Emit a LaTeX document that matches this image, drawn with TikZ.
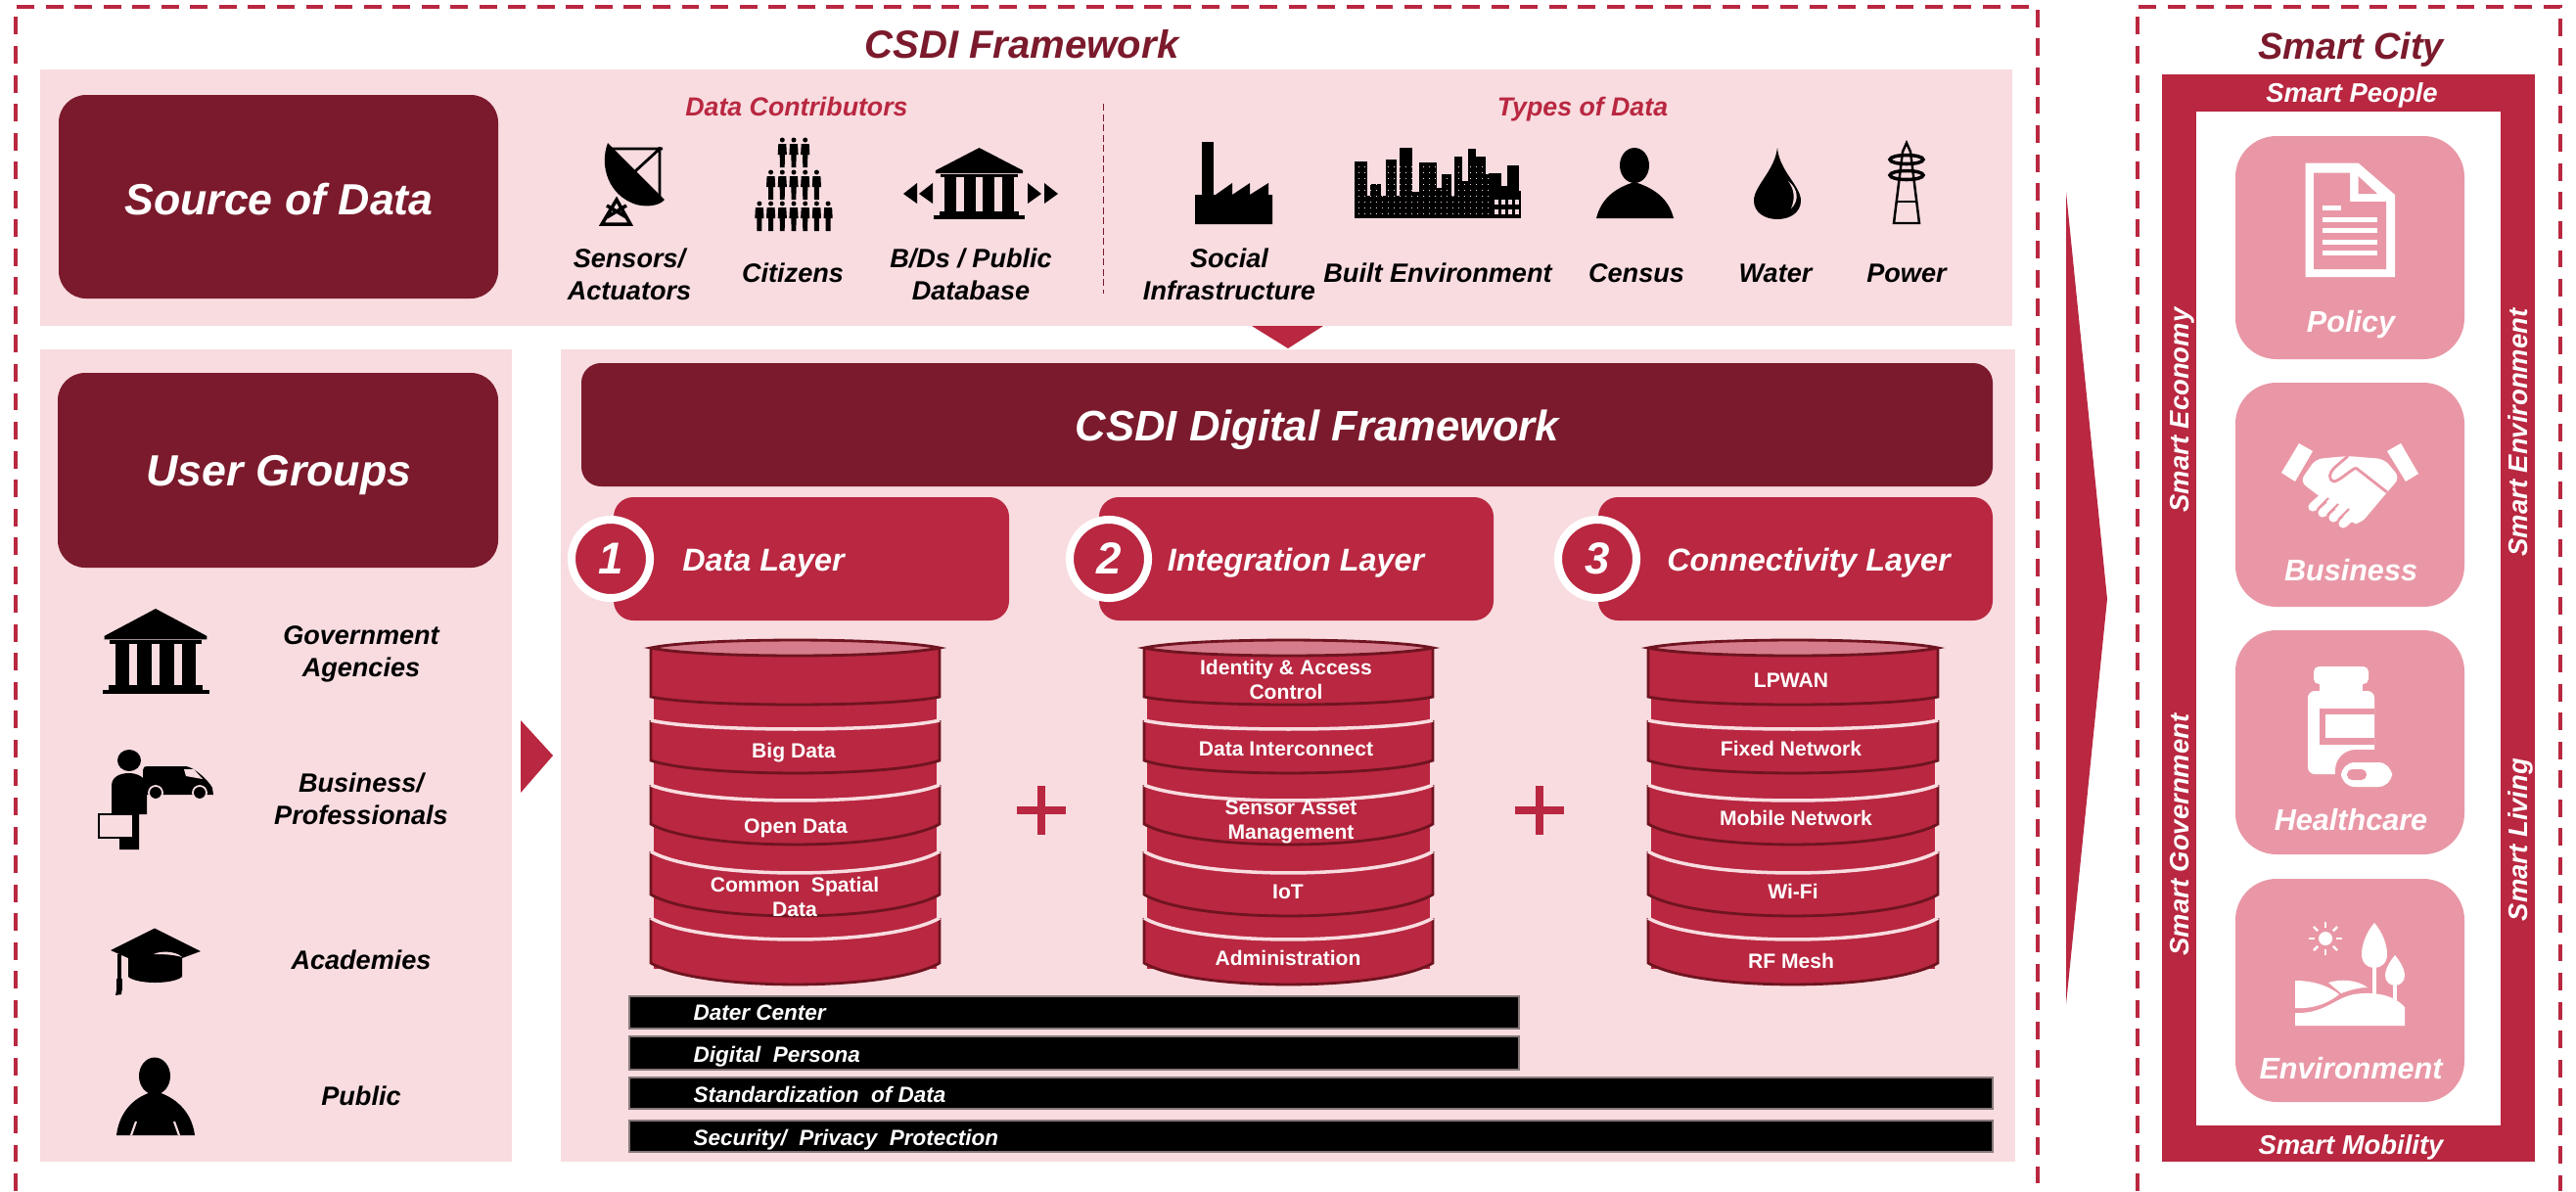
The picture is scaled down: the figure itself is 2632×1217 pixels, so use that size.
\documentclass[tikz,border=0pt]{standalone}
\usepackage{fontspec}
\setmainfont{Liberation Sans}
\usepackage{tikz}

\definecolor{csdidark}{HTML}{7B1A2C}
\definecolor{csdired}{HTML}{B92740}
\definecolor{csdipanel}{HTML}{F8DCE0}
\definecolor{csdibox}{HTML}{E997A6}
\definecolor{csdirim}{HTML}{6F1420}
\definecolor{csditop}{HTML}{D57D8D}

\newcommand{\bit}[2]{\fontsize{#1}{#2}\selectfont\bfseries\itshape}

\tikzset{
  panel/.style={fill=csdipanel},
  darkbox/.style={fill=csdidark, rounded corners=.28cm},
  layerbox/.style={fill=csdired, rounded corners=.2cm},
  cardbox/.style={fill=csdibox, rounded corners=.42cm},
  frameline/.style={csdired, line width=1pt, dash pattern=on 5.1pt off 3.3pt},
  barbox/.style={fill=black, draw=black!45!csdipanel, line width=.3pt},
  txt/.style={inner sep=0pt, align=center, text depth=0pt},
  framelbl/.style={txt, text=csdidark, font=\bit{11.4}{14}},
  headlbl/.style={txt, text=white, font=\bit{12.7}{15}},
  sublbl/.style={txt, text=csdired, font=\bit{7.6}{9}},
  iconlbl/.style={txt, text=black, font=\bit{7.7}{9.4}},
  grouplbl/.style={txt, text=black, font=\bit{7.7}{9.4}},
  layerlbl/.style={txt, text=white, font=\bit{9.2}{12}},
  numring/.style={circle, fill=csdired, draw=white, line width=2.3pt, inner sep=0pt,
    minimum size=.8cm, text=white, font=\bit{13}{15}},
  disklbl/.style={txt, text=white, font=\fontsize{6}{7.1}\selectfont\bfseries},
  barlbl/.style={inner sep=0pt, anchor=west, text depth=0pt, text=white, font=\bit{6.4}{8}},
  cardlbl/.style={txt, text=white, font=\bit{8.7}{11}},
  smartlbl/.style={txt, text=white, font=\bit{7.8}{9}}
}

\newcommand{\dbdisk}[6]{
  \pgfmathsetmacro\ca{#1+.17*(#2-#1)}
  \pgfmathsetmacro\cb{#2-.17*(#2-#1)}
  \pgfmathsetmacro\ct{#3+1.33*#5}
  \pgfmathsetmacro\cd{#4+1.33*#6}
  \fill[csdired] (#1,#3) .. controls (\ca,\ct) and (\cb,\ct) .. (#2,#3) -- (#2,#4)
    .. controls (\cb,\cd) and (\ca,\cd) .. (#1,#4) -- cycle;
  \draw[csdirim, line width=.8pt] (#1,#3) -- (#1,#4) .. controls (\ca,\cd) and (\cb,\cd) .. (#2,#4) -- (#2,#3);
}

\newcommand{\bankicon}[4]{
  \begin{scope}[shift={(#1,#2)}, xscale=#3, yscale=#4]
    \fill (2,32) -- (50,0) -- (98,32) -- (98,36) -- (2,36) -- cycle;
    \fill (7,37) rectangle (93,41);
    \foreach \colx in {12,33,54,75}
      \fill (\colx,38) rectangle (\colx+13,92);
    \fill (6,90) rectangle (94,95);
    \fill (0,95) rectangle (100,100);
  \end{scope}
}

\newcommand{\crowdman}[2]{
  \fill ({#1},{#2+3}) circle [radius=2.5];
  \fill ({#1-4},{#2+7}) -- ({#1+4},{#2+7}) -- ({#1+4.6},{#2+18}) -- ({#1+2.6},{#2+18})
    -- ({#1+2.4},{#2+31}) -- ({#1-2.4},{#2+31}) -- ({#1-2.6},{#2+18}) -- ({#1-4.6},{#2+18}) -- cycle;
}

\begin{document}
\begin{tikzpicture}[x=.01cm, y=-.01cm]
\useasboundingbox (0,0) rectangle (2632,1217);

\draw[frameline] (16,1217) -- (16,7) -- (2082,7) -- (2082,1217);
\draw[frameline] (2184,1217) -- (2184,7) -- (2616,7) -- (2616,1217);
\node[framelbl] (csdititle) at (1044,45) {CSDI Framework};
\node[framelbl, font=\bit{10.8}{13}] (citytitle) at (2402,47) {Smart City};

\fill[panel] (41,71) rectangle (2056,333);
\fill[panel] (41,357) rectangle (523,1187);
\fill[panel] (573,357) rectangle (2059,1187);
\fill[csdired] (1279,333) -- (1352,333) -- (1316,356) -- cycle;
\fill[csdired] (532,736) -- (565,772) -- (532,810) -- cycle;
\fill[csdired] (2111,196) -- (2153,612) -- (2111,1026) -- cycle;

\fill[darkbox] (60,97) rectangle (509,305);
\node[headlbl] (sourcelbl) at (285,203) {Source of Data};
\fill[darkbox] (59,381) rectangle (509,580);
\node[headlbl] (userlbl) at (285,481) {User Groups};

\node[sublbl] (contriblbl) at (814,109) {Data Contributors};
\node[sublbl] (typeslbl) at (1617,109) {Types of Data};
\draw[csdidark, line width=.25pt, dash pattern=on 2pt off 1pt] (1127,106) -- (1127,300);

\node[iconlbl] (sensorlbl) at (643,280.5) {Sensors/\\Actuators};
\node[iconlbl] (citizenlbl) at (810,279) {Citizens};
\node[iconlbl] (dblbl) at (992,280.5) {B/Ds / Public\\Database};
\node[iconlbl] (sociallbl) at (1256,280.5) {Social\\Infrastructure};
\node[iconlbl] (builtlbl) at (1469,279) {Built Environment};
\node[iconlbl] (censuslbl) at (1672,279) {Census};
\node[iconlbl] (waterlbl) at (1814,279) {Water};
\node[iconlbl] (powerlbl) at (1948,279) {Power};

\fill (621,146) .. controls (612,170) and (622,200) .. (650,209) .. controls (662,212) and (674,210) .. (679,204) -- cycle;
\draw[line width=.8pt] (621,152) -- (677,152) (674,150) -- (674,202) (674,152) -- (649,175);
\draw[line width=1pt] (630,204) -- (615,229) -- (644,229) -- cycle (620,222) -- (640,210) (640,222) -- (620,210);

\foreach \rowy/\rown in {140/3,173/5,205/7}
  \foreach \ci in {1,...,\rown} {
    \pgfmathsetmacro\manx{811+(\ci-(\rown+1)/2)*11.7}
    \crowdman{\manx}{\rowy}
  }

\bankicon{954}{151}{.93}{.725}
\fill (923,198) -- (937,187) -- (937,208) -- cycle;
\fill (939,198) -- (953,187) -- (953,208) -- cycle;
\fill (1064,198) -- (1050,187) -- (1050,208) -- cycle;
\fill (1081,198) -- (1067,187) -- (1067,208) -- cycle;

\fill (1228,145) rectangle (1240,199);
\fill (1221,199) -- (1242,199) -- (1259,187) -- (1259,199) -- (1277,187) -- (1277,199) -- (1296,187) -- (1296,199) -- (1300,199) -- (1300,229) -- (1221,229) -- cycle;

\foreach \xa/\xb/\ya in {1384/1397/165,1400/1411/188,1416/1427/163,1430/1443/151,1443/1450/196,1450/1468/166,1468/1473/192,1473/1483/178,1486/1494/160,1494/1500/185,1500/1508/152,1508/1518/160,1518/1521/178,1521/1534/177,1534/1540/190,1540/1552/169,1552/1554/195}
  \fill (\xa,\ya) rectangle (\xb,210);
\fill (1384,200) rectangle (1554,223);
\foreach \wx in {1527,1534,1541,1548}
  \foreach \wy in {204,214}
    \fill[csdipanel] (\wx,\wy) rectangle (\wx+3.5,\wy+4.5);
\foreach \wx in {1388,1394,...,1520}
  \foreach \wy in {170,176,...,218}
    \fill[csdipanel] (\wx,\wy) rectangle (\wx+1.2,\wy+1.2);

\fill (1670,169) ellipse [x radius=15, y radius=18];
\fill (1631,223) .. controls (1636,203) and (1650,192) .. (1670,186) .. controls (1690,192) and (1705,203) .. (1710,223) -- cycle;

\fill (1816,151) .. controls (1818,175) and (1840,190) .. (1840,205) .. controls (1840,217) and (1829,224) .. (1816,224) .. controls (1803,224) and (1792,217) .. (1792,205) .. controls (1792,190) and (1813,175) .. (1816,151) -- cycle;
\fill[csdipanel] (1827,185) .. controls (1838,193) and (1838,206) .. (1830,213) .. controls (1834,204) and (1834,194) .. (1827,185) -- cycle;

\draw[line width=.7pt] (1944,155) -- (1935,228) -- (1961,228) -- (1952,155) -- (1948,146) -- cycle;
\draw[line width=1pt] (1948,163) ellipse [x radius=17, y radius=4.5];
\draw[line width=1pt] (1948,179) ellipse [x radius=17, y radius=4.5];
\draw[line width=.7pt] (1939,206) -- (1957,206);

\bankicon{104.5}{622}{1.09}{.87}
\node[grouplbl] (govlbl) at (369,665.5) {Government\\Agencies};
\node[grouplbl] (buslbl) at (369,816.5) {Business/\\Professionals};
\node[grouplbl] (acadlbl) at (369,981) {Academies};
\node[grouplbl] (publbl) at (369,1120) {Public};

\fill (132,777) ellipse [x radius=12, y radius=11];
\fill (114,832) -- (114,803) .. controls (114,794) and (122,790) .. (132,790) .. controls (142,790) and (150,796) .. (150,803) -- (150,832) -- (142,832) -- (142,868) -- (122,868) -- (122,832) -- cycle;
\draw[line width=.7pt, fill=csdipanel] (101,832) rectangle (136,856);
\fill (146,804) -- (146,787) .. controls (146,784) and (148,783) .. (150,783) -- (190,783) .. controls (198,784) and (212,796) .. (217,805) -- (218,812) -- (150,812) -- cycle;
\fill[csdipanel] (188,786) -- (198,786) -- (207,796) -- (190,793) -- cycle;
\fill (159,810) circle [radius=6];
\fill (204,810) circle [radius=6];
\draw[csdipanel, line width=.5pt] (159,810) circle [radius=7];
\draw[csdipanel, line width=.5pt] (204,810) circle [radius=7];

\fill (113,971) -- (158,948.5) -- (205,972) -- (186,979) -- (186,998) .. controls (177,1006) and (140,1006) .. (131,998) -- (131,979) -- cycle;
\fill[csdipanel] (157,975) .. controls (165,971) and (180,972) .. (186,978) .. controls (176,975) and (165,975) .. (157,975) -- cycle;
\draw[line width=1pt] (122,975) -- (122,1000);
\fill (119,1000) rectangle (125,1012);
\fill (119,1012) -- (125,1008) -- (124,1016) -- (118,1017) -- cycle;

\fill (158,1099.5) ellipse [x radius=16, y radius=19];
\fill (119,1160) .. controls (122,1135) and (138,1120) .. (158,1115) .. controls (178,1120) and (196,1135) .. (199,1160) -- cycle;
\draw[csdipanel, line width=.6pt] (134,1160) -- (139,1146) (183,1160) -- (178,1146);

\fill[darkbox, rounded corners=.2cm] (594,371) rectangle (2036,497);
\node[headlbl, font=\bit{12.4}{15}] (digitallbl) at (1346,435) {CSDI Digital Framework};

\fill[layerbox] (627,508) rectangle (1031,634);
\fill[layerbox] (1123,508) rectangle (1526,634);
\fill[layerbox] (1633,508) rectangle (2036,634);
\node[numring] (numone) at (624,571) {1};
\node[numring] (numtwo) at (1133,571) {2};
\node[numring] (numthree) at (1632,571) {3};
\node[layerlbl] (datalbl) at (780,572) {Data Layer};
\node[layerlbl] (integlbl) at (1324,572) {Integration Layer};
\node[layerlbl] (connlbl) at (1848,572) {Connectivity Layer};

\foreach \xa/\xb in {665/960,1169/1464,1684/1980} {
  \fill[csdired] (\xa+3,662) rectangle (\xb-3,990);
  \foreach \ta/\tb/\da/\db in {938/984/22/22,870/914/22/22,802/842/16/21,736/777/9/13,662/712/8/8} {
    \dbdisk{\xa}{\xb}{\ta}{\tb}{\da}{\db}
    \ifnum\ta>662
      \draw[csdipanel, line width=1pt] (\xa,\ta) .. controls (\ca,\ct) and (\cb,\ct) .. (\xb,\ta);
    \else
      \pgfmathsetmacro\cu{\ta-1.33*\da}
      \draw[csdirim, fill=csditop, line width=.8pt] (\xa,\ta) .. controls (\ca,\cu) and (\cb,\cu) .. (\xb,\ta) .. controls (\cb,\ct) and (\ca,\ct) .. (\xa,\ta) -- cycle;
    \fi
  }
}

\node[disklbl] (bigdata) at (811,767) {Big Data};
\node[disklbl] (opendata) at (813,844) {Open Data};
\node[disklbl] (spatial) at (812,916) {Common\ \ Spatial\\Data};
\node[disklbl] (identity) at (1314,694.5) {Identity \& Access\\Control};
\node[disklbl] (interconn) at (1314,765) {Data Interconnect};
\node[disklbl] (sensorasset) at (1319,837.5) {Sensor Asset\\Management};
\node[disklbl] (iot) at (1316,911) {IoT};
\node[disklbl] (admin) at (1316,979) {Administration};
\node[disklbl] (lpwan) at (1830,695) {LPWAN};
\node[disklbl] (fixednet) at (1830,765) {Fixed Network};
\node[disklbl] (mobilenet) at (1835,836) {Mobile Network};
\node[disklbl] (wifi) at (1832,911) {Wi-Fi};
\node[disklbl] (rfmesh) at (1830,982) {RF Mesh};

\foreach \px in {1064,1573} {
  \fill[csdired] (\px-25,824) rectangle (\px+25,832);
  \fill[csdired] (\px-4,803) rectangle (\px+4,853);
}

\foreach \bx/\ba/\bb in {1552/1018/1051,1552/1059/1093,2036/1101/1133,2036/1145/1177}
  \draw[barbox] (643,\ba) rectangle (\bx,\bb);
\node[barlbl] (daterlbl) at (708,1035) {Dater Center};
\node[barlbl] (personalbl) at (708,1077) {Digital\ \ Persona};
\node[barlbl] (standardlbl) at (708,1118) {Standardization\ \ of Data};
\node[barlbl] (securitylbl) at (708,1162) {Security/\ \ Privacy\ \ Protection};

\fill[csdired] (2208.5,76) rectangle (2590,1187);
\fill[white] (2243.5,114) rectangle (2555,1150);
\node[smartlbl] (peoplelbl) at (2403,95) {Smart People};
\node[smartlbl] (mobilitylbl) at (2402,1170) {Smart Mobility};
\node[smartlbl, rotate=90] (economylbl) at (2227,419) {Smart Economy};
\node[smartlbl, rotate=90] (governlbl) at (2227,853) {Smart Government};
\node[smartlbl, rotate=90] (environlbl) at (2573,442) {Smart Environment};
\node[smartlbl, rotate=90] (livinglbl) at (2573,858) {Smart Living};

\fill[cardbox] (2284,139) rectangle (2518,367);
\fill[cardbox] (2284,391) rectangle (2518,620);
\fill[cardbox] (2284,644) rectangle (2518,873);
\fill[cardbox] (2284,898) rectangle (2518,1126);
\node[cardlbl] (policylbl) at (2402,328) {Policy};
\node[cardlbl] (businesslbl) at (2402,582) {Business};
\node[cardlbl] (healthlbl) at (2402,837) {Healthcare};
\node[cardlbl] (envirlbl) at (2402,1091) {Environment};

\fill[white] (2355.5,166.5) -- (2409.5,166.5) -- (2447,199) -- (2447,283) -- (2355.5,283) -- cycle;
\fill[csdibox] (2364,176.5) -- (2401,176.5) -- (2401,206) -- (2438,206) -- (2438,275) -- (2364,275) -- cycle;
\fill[csdibox] (2409.5,180) -- (2409.5,198) -- (2429,198) -- cycle;
\fill[white] (2373,209.5) rectangle (2392,214.5);
\foreach \ly in {224,235.5,247,258}
  \fill[white] (2373,\ly-2.5) rectangle (2429,\ly+2.5);

\fill[white] (2349,453) -- (2363,461) -- (2345,492) -- (2331,483) -- cycle;
\fill[white] (2453,453) -- (2471,484) -- (2458,492) -- (2439,461) -- cycle;
\fill[white, rounded corners=2pt] (2366,469) -- (2399,466) -- (2436,469) -- (2452,488) -- (2439,503) -- (2428,516) -- (2412,535) -- (2403,535) -- (2380,515) -- (2350,492) -- cycle;
\draw[csdibox, line width=.8pt] (2407,478) -- (2439,503) (2407,478) .. controls (2398,483) and (2392,490) .. (2385,492) .. controls (2378,490) and (2380,483) .. (2385,478) -- (2399,466);
\foreach \fx/\fy in {2366/516,2376/522,2387/527,2397/533}
  \draw[white, line width=2.6pt, line cap=round] (\fx-3,\fy+2) -- (\fx+6,\fy-6);
\foreach \fx/\fy in {2373/515,2383/521,2394/526}
  \draw[csdibox, line width=.6pt] (\fx-5,\fy+5) -- (\fx+6,\fy-6);

\fill[white, rounded corners=1.5pt] (2364,681) rectangle (2420,699);
\fill[white] (2370,699) rectangle (2414,708);
\fill[white, rounded corners=2pt] (2358,706) rectangle (2426,791);
\fill[csdibox] (2370,724) rectangle (2426,761);
\fill[white] (2376,730) rectangle (2426,754);
\fill[csdibox, rounded corners=6pt] (2386,766) rectangle (2450,810);
\fill[white, rounded corners=4pt] (2392,779) rectangle (2444,804);
\fill[csdibox, rounded corners=1.5pt] (2398,786) rectangle (2418,797);

\fill[white] (2376,959) circle [radius=7];
\foreach \ang in {0,45,...,315}
  \draw[white, line width=.7pt] (2376,959) ++(\ang:11) -- ++(\ang:6);
\fill[white] (2426,943) .. controls (2418,952) and (2413,965) .. (2413,975) .. controls (2413,984) and (2419,989) .. (2426,989) .. controls (2433,989) and (2439,984) .. (2439,975) .. controls (2439,965) and (2434,952) .. (2426,943) -- cycle;
\draw[white, line width=.9pt] (2426,985) -- (2426,1016);
\fill[white] (2447,976) .. controls (2442,982) and (2437,990) .. (2437,997) .. controls (2437,1003) and (2442,1007) .. (2447,1007) .. controls (2452,1007) and (2457,1003) .. (2457,997) .. controls (2457,990) and (2452,982) .. (2447,976) -- cycle;
\draw[white, line width=.9pt] (2447,1004) -- (2447,1022);
\fill[white] (2345,1002) .. controls (2365,1002) and (2380,1008) .. (2390,1016) .. controls (2378,1026) and (2362,1031) .. (2345,1030) -- cycle;
\fill[white] (2379,1004) .. controls (2392,1000) and (2408,1001) .. (2419,1009) .. controls (2410,1009) and (2400,1012) .. (2392,1015) -- cycle;
\fill[white] (2345,1035) .. controls (2375,1036) and (2385,1020) .. (2405,1016) .. controls (2425,1013) and (2445,1016) .. (2457,1029) -- (2457,1048) -- (2345,1048) -- cycle;

\end{tikzpicture}
\end{document}
